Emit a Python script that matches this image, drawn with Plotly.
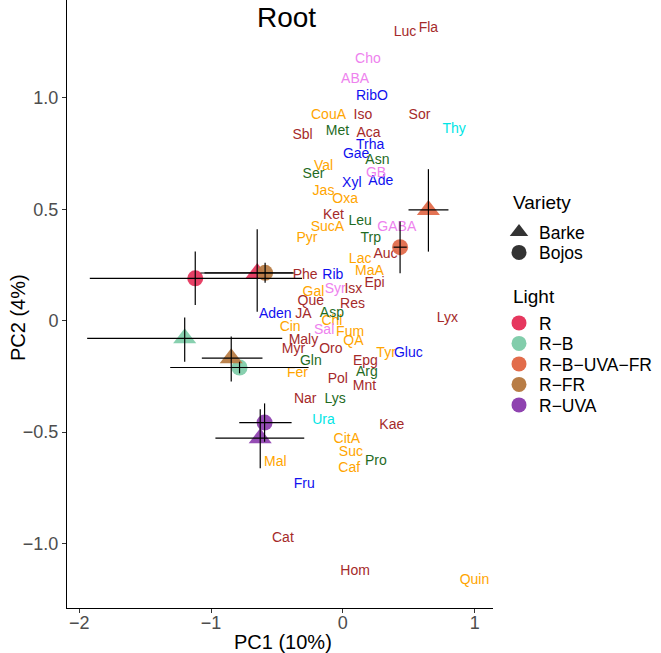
import plotly.graph_objects as go

# ---------------- data ----------------
labels = ["Luc", "Fla", "Cho", "ABA", "RibO", "CouA", "Iso", "Sor", "Thy", "Sbl",
          "Met", "Aca", "Trha", "Gae", "Asn", "Val", "Ser", "GB", "Xyl", "Ade",
          "Jas", "Oxa", "Ket", "Leu", "GABA", "SucA", "Pyr", "Trp", "Auc", "Lac",
          "MaA", "Phe", "Rib", "Epi", "Gal", "Syr", "Isx", "Que", "Res", "Aden",
          "JA", "Asp", "Chl", "Cin", "Sal", "Fum", "QA", "Maly", "Myr", "Oro",
          "Gln", "Epg", "Fer", "Arg", "Tyr", "Gluc", "Lyx", "Pol", "Mnt", "Nar",
          "Lys", "Ura", "Kae", "CitA", "Suc", "Pro", "Mal", "Caf", "Fru", "Cat",
          "Hom", "Quin"]
pc1 = [0.472, 0.649, 0.190, 0.093, 0.220, -0.109, 0.152, 0.581, 0.844, -0.306,
       -0.041, 0.194, 0.207, 0.101, 0.262, -0.147, -0.223, 0.252, 0.068, 0.288,
       -0.147, 0.017, -0.071, 0.131, 0.409, -0.117, -0.273, 0.212, 0.323, 0.131,
       0.202, -0.286, -0.076, 0.240, -0.223, -0.058, 0.080, -0.243, 0.073, -0.513,
       -0.299, -0.083, -0.083, -0.400, -0.142, 0.055, 0.080, -0.299, -0.375, -0.091,
       -0.243, 0.171, -0.344, 0.182, 0.328, 0.497, 0.793, -0.038, 0.164, -0.286,
       -0.058, -0.147, 0.371, 0.030, 0.061, 0.250, -0.513, 0.048, -0.293, -0.455,
       0.093, 0.998]
pc2 = [1.294, 1.309, 1.174, 1.083, 1.008, 0.923, 0.923, 0.923, 0.856, 0.830,
       0.848, 0.838, 0.784, 0.748, 0.718, 0.694, 0.657, 0.661, 0.616, 0.624,
       0.579, 0.542, 0.474, 0.444, 0.419, 0.417, 0.367, 0.370, 0.299, 0.275,
       0.220, 0.201, 0.205, 0.165, 0.126, 0.141, 0.141, 0.085, 0.074, 0.026,
       0.030, 0.033, -0.004, -0.030, -0.042, -0.054, -0.094, -0.090, -0.131, -0.131,
       -0.184, -0.184, -0.236, -0.233, -0.149, -0.149, 0.011, -0.262, -0.296, -0.353,
       -0.353, -0.449, -0.468, -0.531, -0.590, -0.633, -0.637, -0.665, -0.737, -0.975,
       -1.126, -1.166]
label_class = ["Other", "Other", "Amine", "Amine", "Sugar", "Acid", "Other", "Other", "Base", "Other",
               "Amino", "Other", "Sugar", "Sugar", "Amino", "Acid", "Amino", "Amine", "Sugar", "Sugar",
               "Acid", "Acid", "Other", "Amino", "Amine", "Acid", "Acid", "Amino", "Other", "Acid",
               "Acid", "Other", "Sugar", "Other", "Acid", "Amine", "Other", "Other", "Other", "Sugar",
               "Other", "Amino", "Acid", "Acid", "Amine", "Acid", "Acid", "Other", "Other", "Other",
               "Amino", "Other", "Acid", "Amino", "Acid", "Sugar", "Other", "Other", "Other", "Other",
               "Amino", "Base", "Other", "Acid", "Acid", "Amino", "Acid", "Acid", "Sugar", "Other",
               "Other", "Acid"]

light = ["R", "R", "R-B", "R-B", "R-B-UVA-FR", "R-B-UVA-FR", "R-FR", "R-FR", "R-UVA", "R-UVA"]
variety = ["Barke", "Bojos", "Barke", "Bojos", "Barke", "Bojos", "Barke", "Bojos", "Barke", "Bojos"]
cx = [-0.65, -1.12, -1.20, -0.784, 0.649, 0.434, -0.847, -0.59, -0.627, -0.594]
cy = [0.214, 0.19, -0.079, -0.21, 0.497, 0.33, -0.168, 0.215, -0.527, -0.457]
xmin = [-1.08, -1.92, -1.94, -1.31, 0.498, 0.384, -1.07, -1.05, -0.967, -0.786]
xmax = [-0.37, -0.31, -0.46, -0.26, 0.801, 0.485, -0.61, -0.38, -0.293, -0.389]
ymin = [0.04, 0.07, -0.184, -0.236, 0.31, 0.213, -0.273, 0.17, -0.662, -0.543]
ymax = [0.41, 0.31, 0.014, -0.184, 0.68, 0.445, -0.071, 0.26, -0.397, -0.371]

light_levels = ["R", "R-B", "R-B-UVA-FR", "R-FR", "R-UVA"]
variety_levels = ["Barke", "Bojos"]

# ---------------- styles ----------------
class_colors = {"Other": "#A52A2A", "Acid": "#FFA500", "Sugar": "#1010EE",
                "Amino": "#1F6B1F", "Amine": "#EE82EE", "Base": "#00E5E5"}
light_colors = {"R": "#E6375E", "R-B": "#82CDAB", "R-B-UVA-FR": "#E26C4B",
                "R-FR": "#B87D46", "R-UVA": "#8F43B0"}
variety_symbols = {"Barke": "triangle-up", "Bojos": "circle"}
variety_sizes = {"Barke": 20, "Bojos": 16}
FONT = "Liberation Sans, Arial, Helvetica, sans-serif"

# layout helpers (pixel geometry of the panel)
PLOT_TOP_PX, PLOT_H_PX, PLOT_L_PX, PLOT_W_PX = 0, 608, 67, 426


def py2paper(py):
    return 1 - (py - PLOT_TOP_PX) / PLOT_H_PX


def px2paper(px):
    return (px - PLOT_L_PX) / PLOT_W_PX


fig = go.Figure()

# metabolite labels
for cls, col in class_colors.items():
    idx = [i for i, c in enumerate(label_class) if c == cls]
    fig.add_trace(go.Scatter(
        x=[pc1[i] for i in idx], y=[pc2[i] for i in idx],
        text=[labels[i] for i in idx], mode="text",
        textposition="middle center",
        textfont=dict(family=FONT, size=14, color=col),
        showlegend=False, hoverinfo="skip", cliponaxis=False))

# centroid markers
fig.add_trace(go.Scatter(
    x=cx, y=cy, mode="markers", showlegend=False, hoverinfo="skip",
    marker=dict(color=[light_colors[l] for l in light],
                symbol=[variety_symbols[v] for v in variety],
                size=[variety_sizes[v] for v in variety],
                opacity=0.95, line=dict(width=0))))

# crosshair error bars
hx, hy, vx, vy = [], [], [], []
for i in range(len(cx)):
    hx += [xmin[i], xmax[i], None]
    hy += [cy[i], cy[i], None]
    vx += [cx[i], cx[i], None]
    vy += [ymin[i], ymax[i], None]
fig.add_trace(go.Scatter(x=hx + vx, y=hy + vy, mode="lines",
                         line=dict(color="black", width=1.2),
                         showlegend=False, hoverinfo="skip"))

# legends: one single-entry legend per level so spacing matches the reference
legend_layouts = {}
LEG_X = px2paper(499)
var_rows_px = [232, 252.5]
light_rows_px = [323, 343.5, 364, 384.5, 405]
k = 1
for v, rowpx in zip(variety_levels, var_rows_px):
    name = "legend" if k == 1 else f"legend{k}"
    fig.add_trace(go.Scatter(
        x=[None], y=[None], mode="markers", name=v, legend=name,
        marker=dict(symbol=variety_symbols[v], size=16 if v == "Barke" else 15,
                    color="#333333")))
    legend_layouts[name] = dict(x=LEG_X, xanchor="left", y=py2paper(rowpx), yanchor="middle",
                                font=dict(family=FONT, size=17.5, color="black"),
                                bgcolor="rgba(0,0,0,0)", itemsizing="trace")
    k += 1
for l, rowpx in zip(light_levels, light_rows_px):
    name = f"legend{k}"
    fig.add_trace(go.Scatter(
        x=[None], y=[None], mode="markers", name=l.replace("-", "\u2212"), legend=name,
        marker=dict(symbol="circle", size=15, color=light_colors[l])))
    legend_layouts[name] = dict(x=LEG_X, xanchor="left", y=py2paper(rowpx), yanchor="middle",
                                font=dict(family=FONT, size=17.5, color="black"),
                                bgcolor="rgba(0,0,0,0)", itemsizing="trace")
    k += 1

axis_common = dict(showgrid=False, zeroline=False, showline=True, linecolor="black",
                   linewidth=1, ticks="outside", ticklen=4, tickcolor="#333333",
                   tickfont=dict(family=FONT, size=18, color="#4D4D4D"), mirror=False,
                   automargin=False)

fig.update_layout(
    width=661, height=653,
    margin=dict(l=67, r=168, t=0, b=45),
    paper_bgcolor="white", plot_bgcolor="white",
    font=dict(family=FONT),
    xaxis=dict(range=[-2.093, 1.139], tickvals=[-2, -1, 0, 1],
               ticktext=["\u22122", "\u22121", "0", "1"], ticklabelstandoff=-6,
               **axis_common),
    yaxis=dict(range=[-1.289, 1.439], tickvals=[1, 0.5, 0, -0.5, -1],
               ticktext=["1.0", "0.5", "0", "\u22120.5", "\u22121.0"], **axis_common),
    annotations=[
        dict(text="Root", x=0.516, y=py2paper(17), xref="paper", yref="paper",
             xanchor="center", yanchor="middle", showarrow=False,
             font=dict(family=FONT, size=28, color="black")),
        dict(text="PC1 (10%)", x=px2paper(283), y=py2paper(642), xref="paper", yref="paper",
             xanchor="center", yanchor="middle", showarrow=False,
             font=dict(family=FONT, size=20, color="black")),
        dict(text="PC2 (4%)", x=px2paper(18), y=py2paper(318), xref="paper", yref="paper",
             xanchor="center", yanchor="middle", showarrow=False, textangle=-90,
             font=dict(family=FONT, size=20, color="black")),
        dict(text="Variety", x=px2paper(511), y=py2paper(203), xref="paper", yref="paper",
             xanchor="left", yanchor="middle", showarrow=False,
             font=dict(family=FONT, size=19, color="black")),
        dict(text="Light", x=px2paper(511), y=py2paper(296), xref="paper", yref="paper",
             xanchor="left", yanchor="middle", showarrow=False,
             font=dict(family=FONT, size=19, color="black")),
    ],
    **legend_layouts,
)

fig.write_html("out.html", config={"displayModeBar": False},
               post_script="document.body.style.margin='0px';document.body.style.overflow='hidden';")
